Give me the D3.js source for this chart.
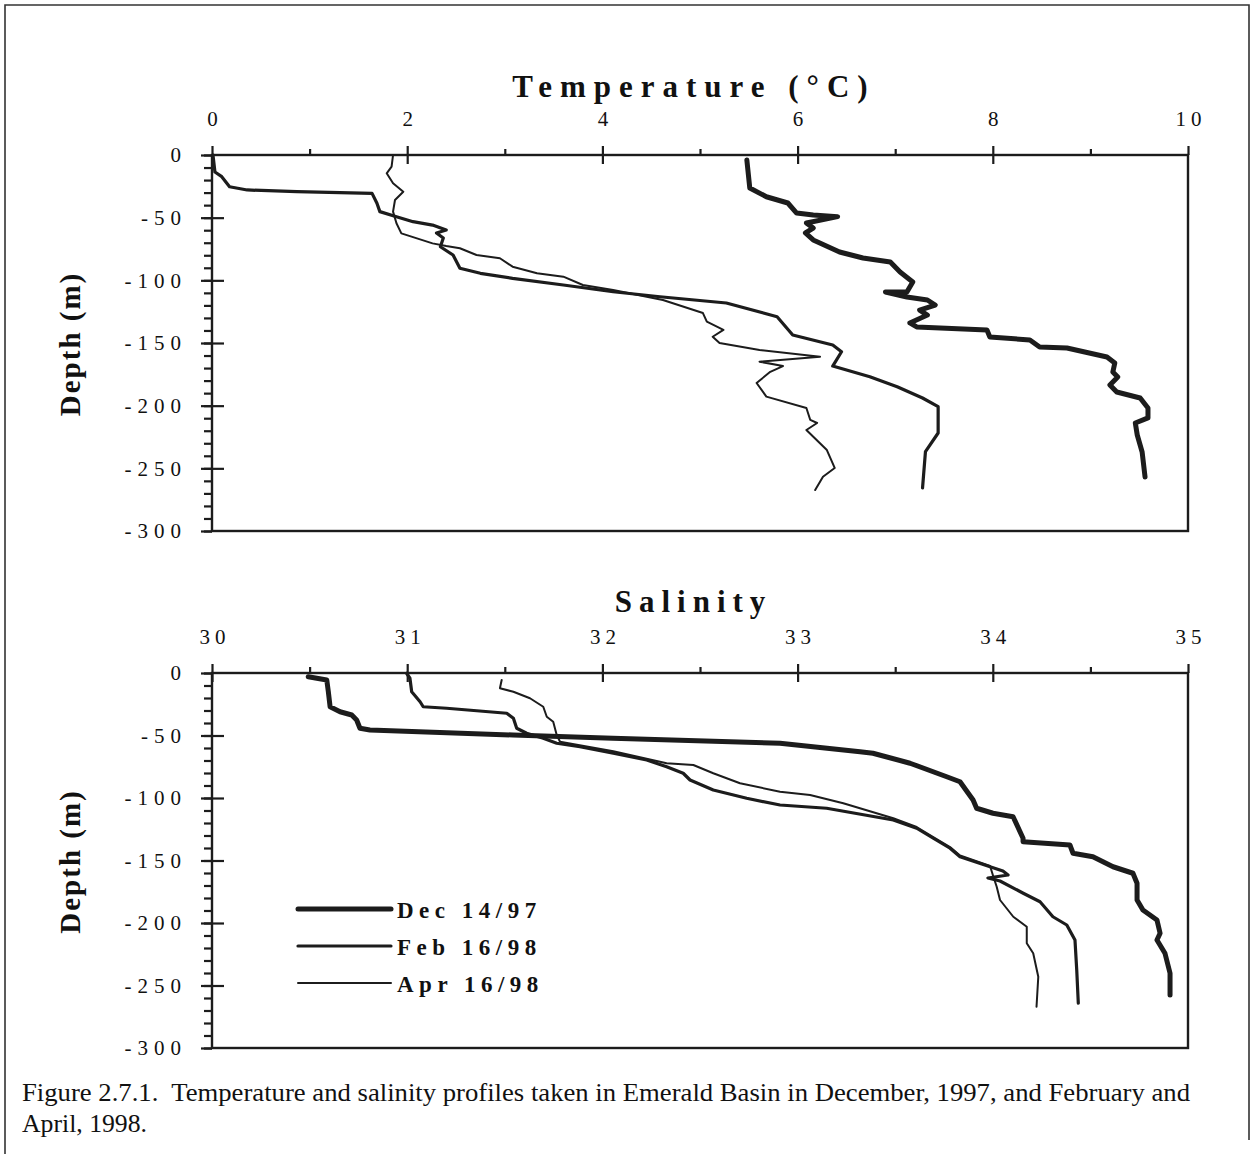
<!DOCTYPE html>
<html>
<head>
<meta charset="utf-8">
<script src="https://cdn.jsdelivr.net/npm/d3@7"></script>
<style>
  html, body { margin: 0; padding: 0; background: #fff; }
  svg { display: block; }
  text { font-family: "Liberation Serif", "Times New Roman", serif; fill: #111; }
</style>
</head>
<body>
<svg id="chart" width="1253" height="1154"></svg>
<script>
// ---------- DATA ----------
const seriesNames = ["Dec 14/97", "Feb 16/98", "Apr 16/98"];
const tempTicks = [0, 2, 4, 6, 8, 10];
const tempMinorTicks = [1, 3, 5, 7, 9];
const salTicks = [30, 31, 32, 33, 34, 35];
const salMinorTicks = [30.5, 31.5, 32.5, 33.5, 34.5];
const depthTicks = [0, -50, -100, -150, -200, -250, -300];
const depthMinorTicks = d3.range(0, -301, -10);

// Temperature profiles: [temperature °C, depth m]
const tempDec = [[5.48,-4],[5.51,-26.3],[5.68,-33.3],[5.90,-38.3],[5.99,-46.3],[6.16,-47.9],[6.41,-49.2],[6.09,-54.3],[6.16,-58.3],[6.08,-62.2],[6.16,-67.8],[6.43,-77.4],[6.67,-82.2],[6.95,-85.4],[7.05,-93.4],[7.18,-101.3],[7.12,-109.3],[6.90,-109.3],[7.12,-113.3],[7.33,-115.7],[7.41,-119.7],[7.25,-123.7],[7.33,-127.7],[7.15,-134.0],[7.22,-137.2],[7.94,-139.6],[7.97,-145.2],[8.38,-147.6],[8.48,-153.2],[8.76,-154.0],[9.17,-161.2],[9.25,-166.0],[9.23,-173.1],[9.28,-177.1],[9.20,-183.5],[9.27,-189.1],[9.51,-193.9],[9.59,-201.9],[9.59,-209.8],[9.46,-213.8],[9.48,-223.4],[9.53,-237.0],[9.56,-256.9]];
const tempFeb = [[0.01,0],[0.03,-13.6],[0.10,-17.3],[0.18,-25.3],[0.36,-27.9],[0.87,-29.3],[1.64,-30.6],[1.69,-38.5],[1.72,-45.2],[1.89,-49.2],[2.06,-53.2],[2.26,-55.9],[2.40,-59.8],[2.30,-62.2],[2.37,-66.2],[2.34,-73.2],[2.47,-79.8],[2.54,-90.4],[2.75,-94.4],[3.08,-98.4],[3.60,-103.7],[4.11,-109.1],[4.59,-113.1],[5.27,-118.1],[5.79,-129.0],[5.95,-143.6],[6.36,-151.6],[6.45,-157.0],[6.36,-168.4],[6.74,-176.9],[7.02,-184.9],[7.28,-193.9],[7.44,-200.8],[7.44,-221.8],[7.31,-236.7],[7.28,-265.7]];
const tempApr = [[1.855,0],[1.84,-9.3],[1.79,-14.6],[1.855,-22.6],[1.96,-29.3],[1.875,-35.9],[1.855,-45.2],[1.89,-54.5],[1.94,-62.5],[2.10,-66.5],[2.26,-70.5],[2.40,-72.6],[2.54,-74.4],[2.71,-79.8],[2.95,-82.4],[3.08,-89.1],[3.33,-94.4],[3.60,-97.1],[3.80,-103.7],[4.11,-107.7],[4.62,-115.7],[5.03,-126.1],[5.07,-133.0],[5.24,-139.6],[5.13,-145.0],[5.20,-150.0],[5.61,-155.6],[6.23,-160.9],[5.61,-164.9],[5.85,-168.4],[5.72,-173.0],[5.58,-181.9],[5.68,-192.8],[6.09,-201.9],[6.13,-211.4],[6.20,-213.8],[6.09,-219.4],[6.30,-235.4],[6.38,-249.7],[6.26,-256.7],[6.18,-267.3]];

// Salinity profiles: [salinity, depth m]
const salDec = [[30.493,-3.0],[30.588,-5.6],[30.596,-15.0],[30.605,-27.0],[30.656,-31.0],[30.716,-33.6],[30.741,-37.6],[30.758,-44.2],[30.809,-45.6],[31.542,-49.6],[32.054,-52.2],[32.910,-56.2],[33.320,-63.0],[33.386,-64.2],[33.576,-72.2],[33.764,-83.0],[33.832,-87.0],[33.899,-101.6],[33.917,-108.2],[34.001,-112.2],[34.104,-115.0],[34.155,-132.2],[34.155,-135.0],[34.395,-137.6],[34.411,-144.2],[34.513,-147.0],[34.616,-155.0],[34.718,-160.2],[34.739,-168.2],[34.739,-181.6],[34.769,-189.6],[34.841,-197.6],[34.857,-208.2],[34.841,-213.6],[34.882,-224.2],[34.908,-240.2],[34.908,-257.6]];
const salFeb = [[30.997,-0.2],[31.014,-4.2],[31.023,-15.0],[31.066,-23.0],[31.082,-27.0],[31.202,-28.2],[31.510,-32.2],[31.544,-36.2],[31.561,-44.2],[31.612,-48.2],[31.697,-52.2],[31.766,-56.2],[31.885,-59.0],[32.056,-64.2],[32.227,-69.6],[32.329,-75.0],[32.414,-80.2],[32.449,-85.6],[32.568,-93.6],[32.739,-100.2],[32.910,-105.6],[33.149,-108.2],[33.490,-117.6],[33.610,-124.2],[33.695,-132.2],[33.781,-140.2],[33.832,-147.0],[33.986,-155.0],[34.052,-158.4],[34.078,-161.6],[33.975,-164.0],[34.037,-166.4],[34.156,-176.2],[34.242,-183.0],[34.308,-195.0],[34.379,-201.6],[34.421,-213.6],[34.430,-237.6],[34.438,-264.2]];
const salApr = [[31.484,-5.6],[31.475,-12.2],[31.544,-15.0],[31.629,-20.2],[31.697,-27.0],[31.715,-35.0],[31.748,-39.0],[31.766,-49.6],[31.783,-55.0],[32.056,-62.6],[32.329,-72.2],[32.466,-73.6],[32.568,-80.2],[32.705,-88.2],[32.910,-95.0],[33.064,-97.6],[33.234,-104.2],[33.490,-116.2],[33.610,-123.2],[33.695,-131.2],[33.781,-139.2],[33.832,-146.0],[33.986,-154.4],[34.003,-163.0],[34.020,-171.0],[34.037,-181.6],[34.105,-195.0],[34.174,-203.0],[34.174,-216.2],[34.207,-224.2],[34.233,-243.0],[34.224,-267.0]];

// ---------- STYLE ----------
const lineWidths = [5, 3.2, 2];
const ink = "#1c1c1c";

const svg = d3.select("#chart");

// outer frame
svg.append("path")
  .attr("d", "M5,1154 L5,5 L1249,5 L1249,1140")
  .attr("fill", "none").attr("stroke", "#333").attr("stroke-width", 1.6);

function panel(opts) {
  const { top, bottom, left, right, xDomain, xMajor, xMinor, title, titleY, titleSpacing, series } = opts;
  const x = d3.scaleLinear().domain(xDomain).range([left, right]);
  const y = d3.scaleLinear().domain([0, -300]).range([top, bottom]);
  const g = svg.append("g");

  // frame
  g.append("rect").attr("x", left).attr("y", top)
    .attr("width", right - left).attr("height", bottom - top)
    .attr("fill", "none").attr("stroke", ink).attr("stroke-width", 2.4);

  const noLabel = a => a.tickFormat(() => "");
  const strip = sel => { sel.select(".domain").remove(); sel.selectAll("line").attr("stroke", ink).attr("stroke-width", 2.2); };

  // top axis ticks
  g.append("g").attr("transform", `translate(0,${top})`)
    .call(noLabel(d3.axisTop(x).tickValues(xMinor).tickSize(6))).call(strip);
  g.append("g").attr("transform", `translate(0,${top})`)
    .call(noLabel(d3.axisTop(x).tickValues(xMajor).tickSize(9))).call(strip);
  g.append("g").attr("transform", `translate(0,${top})`)
    .call(noLabel(d3.axisBottom(x).tickValues(xMajor.slice(0, -1)).tickSize(9))).call(strip);
  // top labels
  const tl = g.append("g").attr("transform", `translate(0,${top})`)
    .call(d3.axisTop(x).tickValues(xMajor).tickSize(0).tickPadding(29).tickFormat(d3.format("d")));
  tl.select(".domain").remove();
  tl.selectAll("text").attr("font-size", 21).style("letter-spacing", "5px")
    .attr("dx", "2.5px")
    .style("font-family", "'Liberation Serif', serif").attr("fill", ink);

  // left axis ticks
  g.append("g").attr("transform", `translate(${left},0)`)
    .call(noLabel(d3.axisLeft(y).tickValues(depthMinorTicks).tickSize(8))).call(strip);
  g.append("g").attr("transform", `translate(${left},0)`)
    .call(noLabel(d3.axisLeft(y).tickValues(depthTicks).tickSize(11))).call(strip);
  g.append("g").attr("transform", `translate(${left},0)`)
    .call(noLabel(d3.axisRight(y).tickValues(depthTicks.slice(1, -1)).tickSize(12))).call(strip);
  const ll = g.append("g").attr("transform", `translate(${left},0)`)
    .call(d3.axisLeft(y).tickValues(depthTicks).tickSize(0).tickPadding(25)
      .tickFormat(d => d === 0 ? "0" : "-" + Math.abs(d)));
  ll.select(".domain").remove();
  ll.selectAll("text").attr("font-size", 21).style("letter-spacing", "6px")
    .style("font-family", "'Liberation Serif', serif").attr("fill", ink);

  // title
  g.append("text").attr("x", 690 + titleSpacing / 2).attr("y", titleY)
    .attr("text-anchor", "middle").attr("font-size", 31).attr("font-weight", "bold")
    .style("letter-spacing", titleSpacing + "px").text(title);

  // y label
  g.append("text")
    .attr("transform", `translate(80,${(top + bottom) / 2 + 1}) rotate(-90)`)
    .attr("text-anchor", "middle").attr("font-size", 29).attr("font-weight", "bold")
    .style("letter-spacing", "2px")
    .text("Depth (m)");

  // profiles
  const line = d3.line().x(d => x(d[0])).y(d => y(d[1])).curve(d3.curveLinear);
  series.forEach((s, i) => {
    g.append("path").datum(s).attr("d", line)
      .attr("fill", "none").attr("stroke", ink).attr("stroke-width", lineWidths[i])
      .attr("stroke-linejoin", "round").attr("stroke-linecap", "round");
  });
  return { x, y, g };
}

panel({ top: 155, bottom: 531, left: 212, right: 1188, xDomain: [0, 10],
  xMajor: tempTicks, xMinor: tempMinorTicks, title: "Temperature (°C)", titleY: 97, titleSpacing: 8,
  series: [tempDec, tempFeb, tempApr] });

panel({ top: 673, bottom: 1048, left: 212, right: 1188, xDomain: [30, 35],
  xMajor: salTicks, xMinor: salMinorTicks, title: "Salinity", titleY: 612, titleSpacing: 7,
  series: [salDec, salFeb, salApr] });

// legend
const legend = svg.append("g");
seriesNames.forEach((name, i) => {
  const yy = 909 + i * 37;
  legend.append("line").attr("x1", 298).attr("x2", 391).attr("y1", yy).attr("y2", yy)
    .attr("stroke", ink).attr("stroke-width", lineWidths[i]).attr("stroke-linecap", "round");
  legend.append("text").attr("x", 397).attr("y", yy + 9)
    .attr("font-size", 23).attr("font-weight", "bold").style("letter-spacing", "5.5px")
    .text(name);
});

// caption
svg.append("text").attr("x", 22).attr("y", 1101).attr("font-size", 26)
  .attr("xml:space", "preserve").style("white-space", "pre")
  .attr("textLength", 1168).attr("lengthAdjust", "spacingAndGlyphs")
  .text("Figure 2.7.1.  Temperature and salinity profiles taken in Emerald Basin in December, 1997, and February and");
svg.append("text").attr("x", 22).attr("y", 1132).attr("font-size", 26)
  .attr("textLength", 125).attr("lengthAdjust", "spacingAndGlyphs")
  .text("April, 1998.");
</script>
</body>
</html>
